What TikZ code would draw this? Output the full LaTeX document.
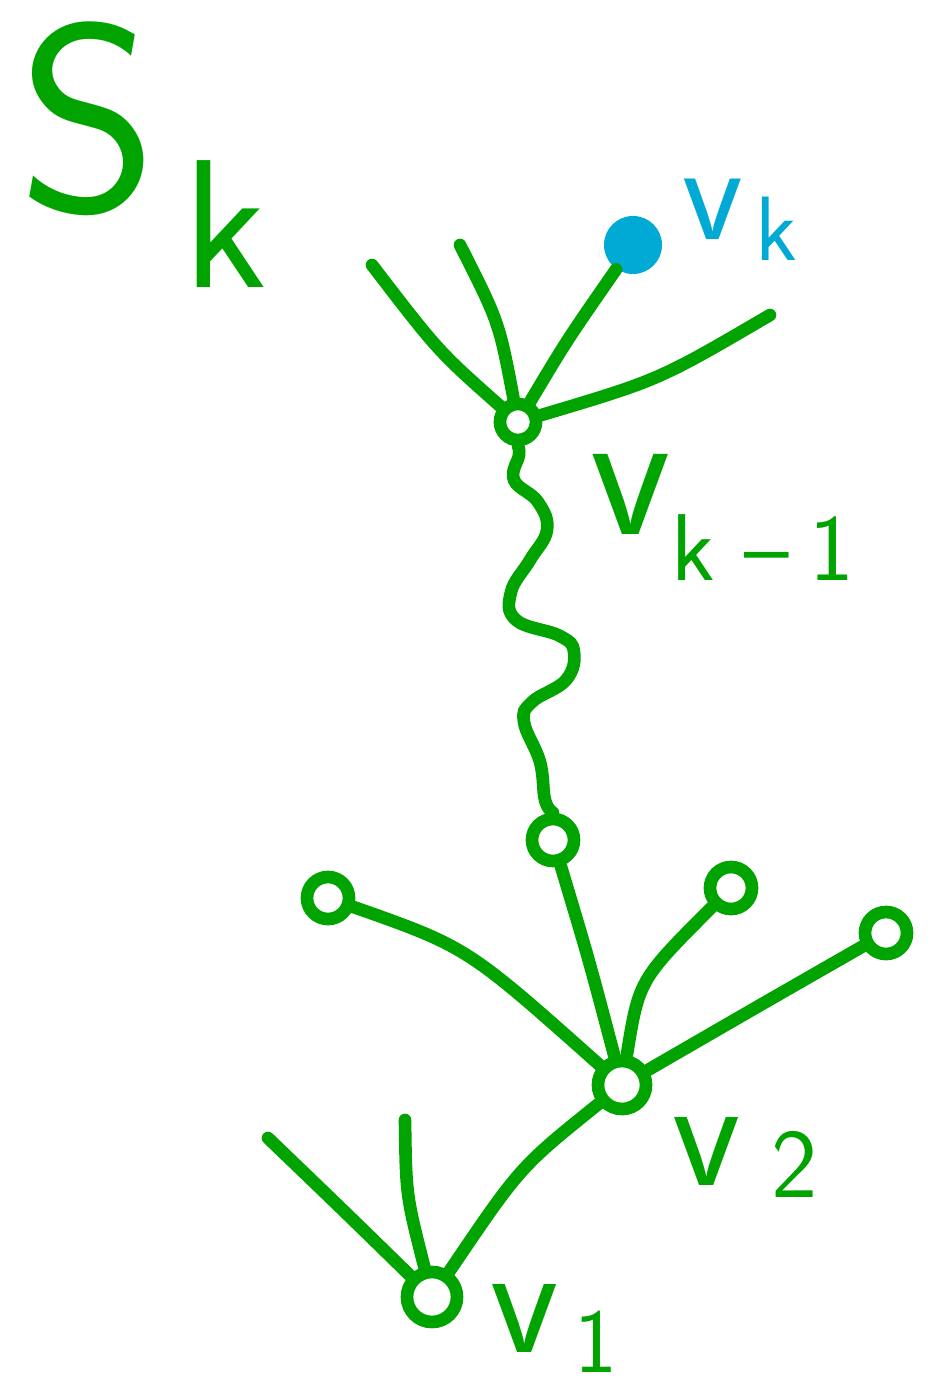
\documentclass[tikz,border=0pt]{standalone}
\usetikzlibrary{positioning}
\definecolor{pen}{HTML}{00A300}
\definecolor{ink}{HTML}{00AAD4}
\newcommand{\hand}[2]{{\fontsize{#1}{#1}\selectfont\sffamily #2}}

\begin{document}
\begin{tikzpicture}[x=0.01cm,y=-0.01cm,
  edge/.style={pen,line width=3.6pt,line cap=round},
  vtx/.style={circle,draw=pen,line width=3.6pt,minimum size=0.42cm,inner sep=0pt},
  lab/.style={pen,inner sep=0pt,anchor=base west}]
  \useasboundingbox (0,0) rectangle (936,1392);

  % title
  \node[lab] (title) at (18,212) {\hand{76}{S}\hspace{0.25cm}\hand{52}{\raisebox{-0.75cm}{k}}};

  % upper star
  \node[vtx,minimum size=0.36cm] (vkm) at (518,422) {};
  \node[circle,fill=ink,minimum size=0.58cm,inner sep=0pt] (vk) at (633,245) {};
  \coordinate (a1) at (372,265);
  \coordinate (a2) at (460,245);
  \coordinate (a3) at (770,315);
  \draw[edge] (vkm) .. controls (438,351) .. (a1);
  \draw[edge] (vkm) .. controls (499,322) .. (a2);
  \draw[edge] (vkm) .. controls (567,340) .. (vk);
  \draw[edge] (vkm) .. controls (659,380) .. (a3);

  % the long path
  \node[vtx] (w) at (553,840) {};
  \draw[edge] plot[smooth,tension=0.7] coordinates {(vkm.south) (519,455) (514,480) (538,502)
    (547,530) (530,560) (511,592) (516,620) (560,636) (574,652) (566,680) (532,702)
    (524,722) (540,762) (545,800) (w.north)};

  % lower star
  \node[vtx,minimum size=0.48cm] (vtwo) at (622,1085) {};
  \node[vtx] (b1) at (328,898) {};
  \node[vtx] (b2) at (731,888) {};
  \node[vtx] (b3) at (886,933) {};
  \draw[edge] (w) .. controls (589,960) .. (vtwo);
  \draw[edge] (vtwo) .. controls (467,947) .. (b1);
  \draw[edge] (vtwo) .. controls (639,980) .. (b2);
  \draw[edge] (vtwo) .. controls (762,1004) .. (b3);

  \node[vtx,minimum size=0.5cm] (vone) at (432,1297) {};
  \coordinate (c1) at (268,1138);
  \coordinate (c2) at (405,1120);
  \draw[edge] (vone) .. controls (520,1167) .. (vtwo);
  \draw[edge] (vone) .. controls (345,1212) .. (c1);
  \draw[edge] (vone) .. controls (406,1195) .. (c2);

  % labels
  \node[lab,ink] (vklab) at (682,240) {\hand{40}{v}\hspace{0.12cm}\hand{26}{\raisebox{-0.2cm}{k}}};
  \node[lab] (vkmlab) at (590,535) {\hand{53}{v}\hspace{0.0cm}\hand{27}{\raisebox{-0.45cm}{k\hspace{0.3cm}--\hspace{0.2cm}1}}};
  \node[lab] (vtwolab) at (672,1185) {\hand{45}{v}\hspace{0.3cm}\hand{28}{\raisebox{-0.12cm}{2}}};
  \node[lab] (vonelab) at (490,1352) {\hand{45}{v}\hspace{0.15cm}\hand{26}{\raisebox{-0.2cm}{1}}};
\end{tikzpicture}
\end{document}
